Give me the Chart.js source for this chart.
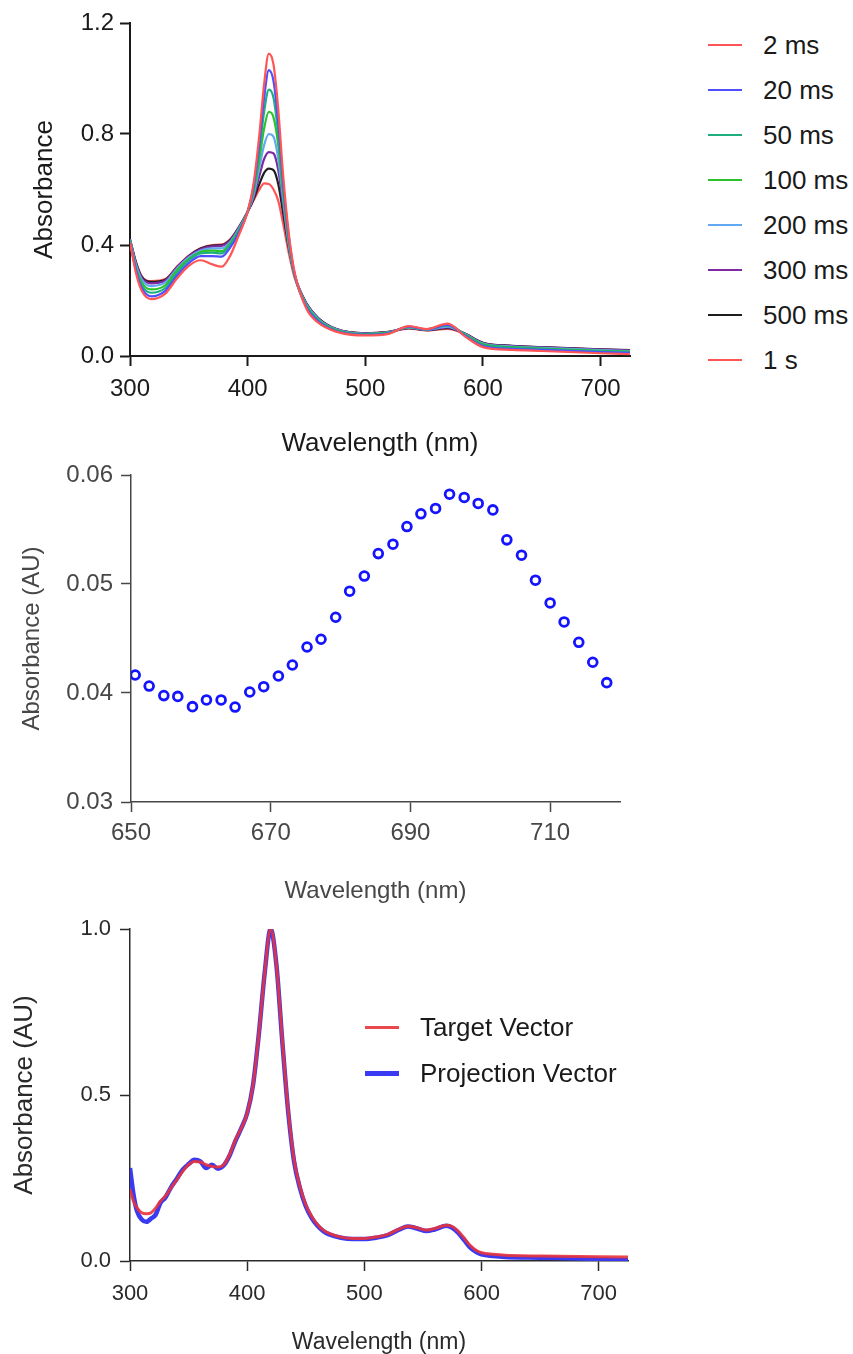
<!DOCTYPE html>
<html>
<head>
<meta charset="utf-8">
<script src="https://cdn.jsdelivr.net/npm/chart.js@4.4.1/dist/chart.umd.min.js"></script>
<style>
  body { margin: 0; background: #fff; width: 853px; height: 1354px; position: relative; overflow: hidden;
         font-family: 'Liberation Sans', Arial, sans-serif; }
  canvas { position: absolute; left: 0; }
  .leg { position: absolute; height: 0; }
  .leg i { position: absolute; display: block; }
  .leg span { position: absolute; white-space: nowrap; line-height: 30px; top: -15px; color: #1a1a1a; }
</style>
</head>
<body>
<canvas id="kinetics" width="640" height="465" style="top:0"></canvas>
<canvas id="difference" width="640" height="460" style="top:450px"></canvas>
<canvas id="projection" width="640" height="458" style="top:900px"></canvas>
<div id="legend1"></div>
<div id="legend3"></div>
<script>
// ---- panel 1: spectra at different delays ----
const wavelengths = [300, 305, 310, 318, 330, 340, 350, 360, 370, 378, 385, 392, 400, 405, 410, 414, 418, 422, 426, 430, 435, 440, 450, 460, 475, 500, 520, 537, 552, 570, 585, 600, 625, 650, 700, 725];
const abs2ms   = [0.41, 0.30, 0.235, 0.205, 0.225, 0.28, 0.325, 0.345, 0.33, 0.322, 0.36, 0.43, 0.52, 0.62, 0.80, 0.98, 1.09, 1.05, 0.89, 0.66, 0.44, 0.30, 0.17, 0.12, 0.088, 0.074, 0.08, 0.108, 0.097, 0.117, 0.07, 0.032, 0.022, 0.018, 0.01, 0.007];
const abs20ms  = [0.41, 0.31, 0.245, 0.215, 0.235, 0.29, 0.335, 0.36, 0.36, 0.358, 0.39, 0.44, 0.52, 0.61, 0.77, 0.93, 1.03, 0.99, 0.84, 0.63, 0.43, 0.295, 0.175, 0.125, 0.09, 0.076, 0.082, 0.106, 0.096, 0.112, 0.072, 0.036, 0.026, 0.022, 0.014, 0.011];
const abs50ms  = [0.415, 0.315, 0.255, 0.228, 0.245, 0.30, 0.345, 0.37, 0.372, 0.37, 0.40, 0.445, 0.52, 0.60, 0.74, 0.88, 0.96, 0.93, 0.80, 0.61, 0.42, 0.29, 0.18, 0.128, 0.092, 0.078, 0.083, 0.105, 0.096, 0.114, 0.075, 0.04, 0.03, 0.025, 0.017, 0.014];
const abs100ms = [0.415, 0.32, 0.265, 0.24, 0.255, 0.31, 0.35, 0.375, 0.38, 0.378, 0.405, 0.45, 0.52, 0.59, 0.71, 0.82, 0.88, 0.86, 0.76, 0.59, 0.41, 0.29, 0.183, 0.13, 0.094, 0.079, 0.084, 0.104, 0.096, 0.11, 0.077, 0.043, 0.032, 0.027, 0.019, 0.016];
const abs200ms = [0.42, 0.33, 0.275, 0.252, 0.265, 0.315, 0.355, 0.38, 0.388, 0.388, 0.41, 0.455, 0.52, 0.58, 0.68, 0.76, 0.80, 0.79, 0.71, 0.57, 0.40, 0.29, 0.186, 0.133, 0.096, 0.08, 0.085, 0.102, 0.095, 0.106, 0.078, 0.045, 0.034, 0.029, 0.021, 0.018];
const abs300ms = [0.42, 0.335, 0.282, 0.262, 0.272, 0.32, 0.36, 0.385, 0.395, 0.397, 0.415, 0.46, 0.52, 0.57, 0.65, 0.71, 0.735, 0.73, 0.67, 0.55, 0.395, 0.29, 0.188, 0.135, 0.097, 0.081, 0.086, 0.101, 0.094, 0.103, 0.079, 0.047, 0.036, 0.031, 0.023, 0.02];
const abs500ms = [0.42, 0.338, 0.285, 0.267, 0.275, 0.32, 0.36, 0.387, 0.398, 0.40, 0.418, 0.46, 0.52, 0.565, 0.62, 0.66, 0.675, 0.67, 0.62, 0.52, 0.39, 0.29, 0.19, 0.137, 0.098, 0.082, 0.087, 0.100, 0.093, 0.10, 0.08, 0.048, 0.037, 0.032, 0.024, 0.021];
const abs1s    = [0.42, 0.34, 0.287, 0.27, 0.277, 0.322, 0.362, 0.388, 0.40, 0.402, 0.42, 0.46, 0.52, 0.56, 0.60, 0.622, 0.62, 0.60, 0.56, 0.48, 0.37, 0.28, 0.185, 0.135, 0.097, 0.082, 0.087, 0.099, 0.092, 0.098, 0.079, 0.047, 0.036, 0.031, 0.023, 0.02];
const delayLabels = ['2 ms', '20 ms', '50 ms', '100 ms', '200 ms', '300 ms', '500 ms', '1 s'];
const delaySeries = [abs2ms, abs20ms, abs50ms, abs100ms, abs200ms, abs300ms, abs500ms, abs1s];
const delayColors = ['#ff5555', '#4f4fff', '#1fae7e', '#2cc22c', '#62a8f2', '#7d2aa4', '#1e1e1e', '#ff5555'];
const wlTicks1 = [300, 400, 500, 600, 700];
const absTicks1 = [0, 0.4, 0.8, 1.2];

// ---- panel 2: difference points ----
const wl2 = [650.6, 652.6, 654.7, 656.7, 658.8, 660.8, 662.9, 664.9, 667.0, 669.0, 671.1, 673.1, 675.2, 677.2, 679.3, 681.3, 683.4, 685.4, 687.5, 689.5, 691.5, 693.6, 695.6, 697.7, 699.7, 701.8, 703.8, 705.9, 707.9, 710.0, 712.0, 714.1, 716.1, 718.1];
const abs2 = [0.04165, 0.04064, 0.03976, 0.03969, 0.03875, 0.03936, 0.03936, 0.03871, 0.04009, 0.04058, 0.04156, 0.04257, 0.04422, 0.04493, 0.04695, 0.04934, 0.05073, 0.05279, 0.05365, 0.05527, 0.05644, 0.05693, 0.05824, 0.05794, 0.05739, 0.05680, 0.05405, 0.05264, 0.05035, 0.04826, 0.04652, 0.04465, 0.04282, 0.04095];
const wlTicks2 = [650, 670, 690, 710];
const absTicks2 = [0.03, 0.04, 0.05, 0.06];

// ---- panel 3: target vs projection ----
const wl3 = [300, 303, 306, 310, 314, 318, 322, 326, 330, 335, 340, 345, 350, 355, 360, 365, 370, 375, 380, 385, 390, 395, 400, 405, 410, 415, 420, 425, 430, 435, 440, 445, 450, 455, 460, 465, 470, 480, 490, 500, 510, 520, 530, 537, 545, 553, 560, 570, 575, 580, 585, 590, 595, 600, 610, 620, 650, 700, 725];
const targetVec = [0.215, 0.18, 0.16, 0.145, 0.142, 0.145, 0.16, 0.18, 0.195, 0.22, 0.245, 0.27, 0.29, 0.30, 0.298, 0.29, 0.285, 0.283, 0.29, 0.32, 0.365, 0.40, 0.445, 0.53, 0.685, 0.87, 1.0, 0.89, 0.665, 0.455, 0.305, 0.225, 0.17, 0.135, 0.11, 0.093, 0.083, 0.072, 0.068, 0.068, 0.072, 0.08, 0.097, 0.105, 0.1, 0.093, 0.098, 0.108, 0.104, 0.09, 0.07, 0.048, 0.033, 0.025, 0.02, 0.017, 0.015, 0.013, 0.012];
const projectionVec = [0.28, 0.20, 0.15, 0.125, 0.118, 0.128, 0.14, 0.175, 0.19, 0.222, 0.248, 0.275, 0.292, 0.305, 0.30, 0.28, 0.29, 0.278, 0.288, 0.318, 0.362, 0.40, 0.445, 0.53, 0.685, 0.87, 1.0, 0.89, 0.66, 0.45, 0.30, 0.22, 0.165, 0.13, 0.106, 0.09, 0.08, 0.07, 0.066, 0.066, 0.07, 0.078, 0.095, 0.104, 0.098, 0.09, 0.095, 0.106, 0.1, 0.085, 0.064, 0.042, 0.028, 0.02, 0.015, 0.012, 0.01, 0.006, 0.003];
const vecLabels = ['Target Vector', 'Projection Vector'];
const wlTicks3 = [300, 400, 500, 600, 700];
const absTicks3 = [0, 0.5, 1.0];

Chart.defaults.font.family = "'Liberation Sans', Arial, sans-serif";
Chart.defaults.animation = false;

function toPoints(xs, ys) {
  return xs.map((x, i) => ({ x: x, y: ys[i] }));
}

function axis(opts) {
  return {
    type: 'linear',
    min: opts.min,
    max: opts.max,
    afterBuildTicks: s => { s.ticks = opts.ticks.map(v => ({ value: v })); },
    afterFit: s => { if (opts.width) s.width = opts.width; if (opts.height) s.height = opts.height; },
    border: { display: true, color: opts.color, width: opts.lw },
    grid: { display: true, drawOnChartArea: false, drawTicks: true, tickLength: opts.tickLength,
            tickWidth: opts.lw, tickColor: opts.color, color: opts.color },
    ticks: { color: opts.color, font: { size: opts.tickSize }, padding: opts.tickPad,
             maxRotation: 0, autoSkip: false,
             callback: v => opts.digits == null ? String(v) : v.toFixed(opts.digits) },
    title: { display: true, text: opts.title, color: opts.color, font: { size: opts.titleSize },
             padding: opts.titlePad }
  };
}

const noLegend = { legend: { display: false }, tooltip: { enabled: false } };

new Chart(document.querySelector('#kinetics'), {
  type: 'line',
  data: {
    datasets: delayLabels.map((label, i) => ({
      label: label,
      data: toPoints(wavelengths, delaySeries[i]),
      borderColor: delayColors[i],
      borderWidth: 2.2,
      pointRadius: 0,
      cubicInterpolationMode: 'monotone'
    }))
  },
  options: {
    responsive: false,
    devicePixelRatio: 1,
    layout: { padding: { left: 0, top: 23, right: 10, bottom: 0 } },
    plugins: noLegend,
    scales: {
      x: axis({ min: 300, max: 725, ticks: wlTicks1, height: 109, color: '#1a1a1a', lw: 2, tickLength: 10,
                tickSize: 24, tickPad: 9, title: 'Wavelength (nm)', titleSize: 26, titlePad: { top: 0, bottom: 6 } }),
      y: axis({ min: 0, max: 1.2, ticks: absTicks1, width: 130, digits: 1, color: '#1a1a1a', lw: 2, tickLength: 10,
                tickSize: 24, tickPad: 6, title: 'Absorbance', titleSize: 26, titlePad: { top: 29, bottom: 0 } })
    }
  }
});

new Chart(document.querySelector('#difference'), {
  type: 'scatter',
  data: {
    datasets: [{
      label: 'Absorbance',
      data: toPoints(wl2, abs2),
      borderColor: '#1414ff',
      backgroundColor: 'rgba(255,255,255,0)',
      borderWidth: 2.8,
      pointRadius: 4.4
    }]
  },
  options: {
    responsive: false,
    devicePixelRatio: 1,
    layout: { padding: { left: 0, top: 25, right: 20, bottom: 0 } },
    plugins: noLegend,
    scales: {
      x: axis({ min: 650, max: 720, ticks: wlTicks2, height: 108, color: '#474747', lw: 1.5, tickLength: 10,
                tickSize: 24, tickPad: 7, title: 'Wavelength (nm)', titleSize: 24, titlePad: { top: 0, bottom: 4 } }),
      y: axis({ min: 0.03, max: 0.06, ticks: absTicks2, width: 131, digits: 2, color: '#474747', lw: 1.5, tickLength: 10,
                tickSize: 24, tickPad: 8, title: 'Absorbance (AU)', titleSize: 24, titlePad: { top: 18, bottom: 0 } })
    }
  }
});

new Chart(document.querySelector('#projection'), {
  type: 'line',
  data: {
    datasets: [
      { label: vecLabels[0], data: toPoints(wl3, targetVec), borderColor: 'rgba(232,52,60,0.9)',
        borderWidth: 3, pointRadius: 0, cubicInterpolationMode: 'monotone' },
      { label: vecLabels[1], data: toPoints(wl3, projectionVec), borderColor: '#3a3af2',
        borderWidth: 4.5, pointRadius: 0, cubicInterpolationMode: 'monotone' }
    ]
  },
  options: {
    responsive: false,
    devicePixelRatio: 1,
    layout: { padding: { left: 0, top: 29, right: 12, bottom: 0 } },
    plugins: noLegend,
    scales: {
      x: axis({ min: 300, max: 725, ticks: wlTicks3, height: 97, color: '#2a2a2a', lw: 1.5, tickLength: 10,
                tickSize: 22, tickPad: 10, title: 'Wavelength (nm)', titleSize: 23, titlePad: { top: 0, bottom: 2 } }),
      y: axis({ min: 0, max: 1.0, ticks: absTicks3, width: 130, digits: 1, color: '#2a2a2a', lw: 1.5, tickLength: 10,
                tickSize: 22, tickPad: 9, title: 'Absorbance (AU)', titleSize: 26, titlePad: { top: 9, bottom: 0 } })
    }
  }
});

// HTML legends
function buildLegend(el, labels, colors, widths, x0, y0, dy, textX, size) {
  labels.forEach((label, i) => {
    const row = document.createElement('div');
    row.className = 'leg';
    row.style.left = x0 + 'px';
    row.style.top = (y0 + dy * i) + 'px';
    const sw = document.createElement('i');
    sw.style.cssText = `left:0;width:34px;top:${-widths[i] / 2}px;height:${widths[i]}px;background:${colors[i]}`;
    const tx = document.createElement('span');
    tx.textContent = label;
    tx.style.left = (textX - x0) + 'px';
    tx.style.fontSize = size + 'px';
    row.appendChild(sw);
    row.appendChild(tx);
    el.appendChild(row);
  });
}
buildLegend(document.querySelector('#legend1'), delayLabels, delayColors, delayLabels.map(() => 2), 708, 45, 45, 763, 26);
buildLegend(document.querySelector('#legend3'), vecLabels, ['rgba(232,52,60,0.9)', '#3a3af2'], [3, 5], 365, 1027, 46, 420, 26);
</script>
</body>
</html>
